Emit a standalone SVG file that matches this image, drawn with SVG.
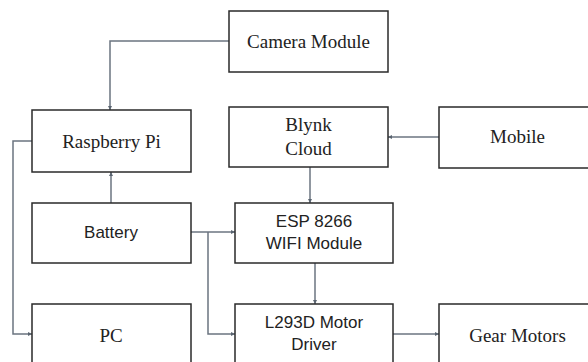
<svg xmlns="http://www.w3.org/2000/svg" width="588" height="362" viewBox="0 0 588 362">
<style>
.box{fill:#fff;stroke:#2a2a2a;stroke-width:1.5}
.serif{font-family:"Liberation Serif","Times New Roman",serif;font-size:19px;fill:#222;text-anchor:middle}
.sans{font-family:"Liberation Sans",Arial,sans-serif;font-size:17px;fill:#222;text-anchor:middle}
.conn{fill:none;stroke:#6b7480;stroke-width:1.5}
</style>
<defs>
<marker id="ah" viewBox="0 0 6 6" refX="6" refY="3" markerWidth="4" markerHeight="4" orient="auto" markerUnits="userSpaceOnUse">
<path d="M0,0 L6,3 L0,6 Z" fill="#5a6470"/>
</marker>
</defs>
<rect width="588" height="362" fill="#fff"/>
<g id="connectors">
<path class="conn" d="M229,41 H110 V110" marker-end="url(#ah)"/>
<path class="conn" d="M111,203 V172" marker-end="url(#ah)"/>
<path class="conn" d="M32,141 H13 V334 H32" marker-end="url(#ah)"/>
<path class="conn" d="M439,137 H388" marker-end="url(#ah)"/>
<path class="conn" d="M310,167 V203" marker-end="url(#ah)"/>
<path class="conn" d="M191,232 H235" marker-end="url(#ah)"/>
<path class="conn" d="M208,232 V334 H235" marker-end="url(#ah)"/>
<path class="conn" d="M315,263 V304" marker-end="url(#ah)"/>
<path class="conn" d="M393,334 H439" marker-end="url(#ah)"/>
</g>
<g id="camera"><rect class="box" x="229" y="11" width="159" height="61"/><text class="serif" x="308.5" y="48">Camera Module</text></g>
<g id="raspberry"><rect class="box" x="32" y="110" width="159" height="62"/><text class="serif" x="111.5" y="148">Raspberry Pi</text></g>
<g id="blynk"><rect class="box" x="229" y="107" width="159" height="60"/><text class="serif" x="308.5" y="131">Blynk</text><text class="serif" x="308.5" y="155">Cloud</text></g>
<g id="mobile"><rect class="box" x="439" y="107" width="157" height="61"/><text class="serif" x="517.5" y="143">Mobile</text></g>
<g id="battery"><rect class="box" x="32" y="203" width="159" height="60"/><text class="sans" x="111" y="238">Battery</text></g>
<g id="esp"><rect class="box" x="235" y="203" width="158" height="60"/><text class="sans" x="314" y="227">ESP 8266</text><text class="sans" x="314" y="249">WIFI Module</text></g>
<g id="pc"><rect class="box" x="32" y="304" width="159" height="70"/><text class="serif" x="111" y="342">PC</text></g>
<g id="l293d"><rect class="box" x="235" y="304" width="158" height="70"/><text class="sans" x="314" y="328">L293D Motor</text><text class="sans" x="314" y="350">Driver</text></g>
<g id="gear"><rect class="box" x="439" y="304" width="157" height="70"/><text class="serif" x="517.5" y="342">Gear Motors</text></g>
</svg>
